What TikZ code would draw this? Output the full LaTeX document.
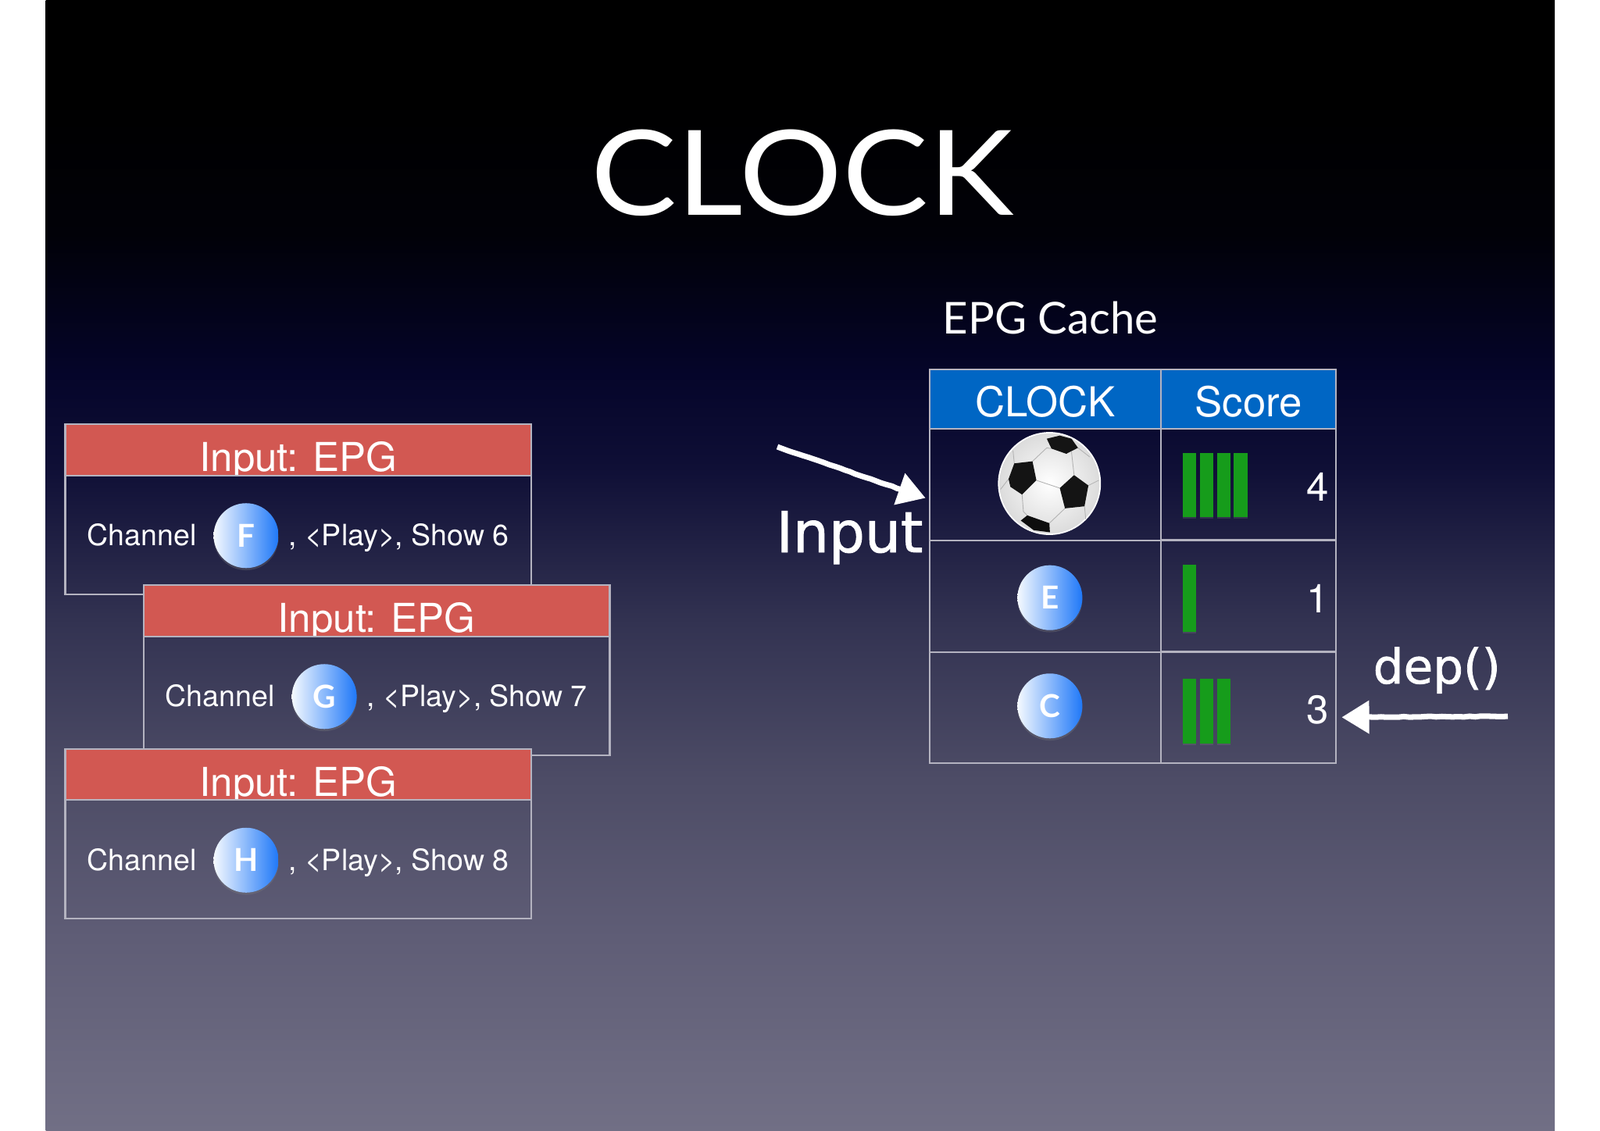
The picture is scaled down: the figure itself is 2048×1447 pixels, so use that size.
\documentclass[tikz,border=0pt]{standalone}
\usepackage{fontspec}
\usepackage{tikz}
\usetikzlibrary{arrows.meta,calc,shadows,decorations.pathmorphing}
\setmainfont{TeX Gyre Heros}
\newfontfamily\gillfont{Lato}
\newfontfamily\chalkfont[FakeBold=1.2]{DejaVu Sans}
\definecolor{rulegrey}{HTML}{B4B3C0}
\definecolor{hdrred}{HTML}{D25852}
\definecolor{hdrblue}{HTML}{0066C4}
\definecolor{bargreen}{HTML}{169C1B}
\definecolor{bubbleblue}{HTML}{1F78F8}
\definecolor{bubblemid}{HTML}{7DB4F8}
\definecolor{panelA}{HTML}{000000}
\definecolor{panelB}{HTML}{010108}
\definecolor{panelC}{HTML}{05052A}
\definecolor{panelD}{HTML}{0F0F36}
\definecolor{panelE}{HTML}{333352}
\definecolor{panelF}{HTML}{4D4C66}
\definecolor{panelG}{HTML}{5F5D76}
\definecolor{panelH}{HTML}{716F85}
\pgfdeclareverticalshading{slidebackdrop}{100bp}{
	color(0bp)=(panelH); color(25bp)=(panelH); color(33.5bp)=(panelG); color(40.5bp)=(panelF);
	color(47.4bp)=(panelE); color(54.3bp)=(panelD); color(58.4bp)=(panelC); color(64.6bp)=(panelB);
	color(70.5bp)=(panelA); color(100bp)=(panelA)}
\tikzset{
	boxline/.style={draw=rulegrey, line width=0.6pt, outer sep=0pt, inner sep=0pt},
	hdr/.style={boxline, fill=hdrred, anchor=north west, minimum width=5.965cm, minimum height=0.655cm},
	body/.style={boxline, anchor=north west, minimum width=5.965cm, minimum height=1.52cm},
	bubble/.style={circle, inner sep=0pt, minimum size=0.83cm, left color=white!92!bubblemid, middle color=bubblemid, right color=bubbleblue, text=white, font=\gillfont\bfseries\fontsize{11.5}{13}\selectfont, drop shadow={shadow xshift=0pt, shadow yshift=-0.8pt, opacity=0.3}},
	big/.style={text=white, inner sep=0pt, font=\fontsize{14.5}{17}\selectfont},
	headtext/.style={text=white, inner sep=0pt, anchor=base, font=\fontsize{15}{18}\selectfont},
	small/.style={text=white, inner sep=0pt, font=\fontsize{10.67}{13}\selectfont},
	cell/.style={boxline, anchor=north west},
	bar/.style={fill=bargreen, inner sep=0pt, anchor=north west, minimum width=0.175cm, drop shadow={shadow xshift=0pt, shadow yshift=-0.6pt, opacity=0.25}},
	chalk/.style={white, line width=2pt, -{Triangle[length=10pt, width=11.7pt]}, decorate, decoration={random steps, segment length=2pt, amplitude=0.15pt, post length=4pt}},
	chalktext/.style={text=white, inner sep=0pt, anchor=base west, font=\chalkfont}
}
\begin{document}
\begin{tikzpicture}[x=0.01cm, y=-0.01cm]
	\useasboundingbox (0,0) rectangle (2048,1447);
	\fill[white] (0,0) rectangle (2048,1447);
	\shade[shading=slidebackdrop] (58.5,0) rectangle (1990,1447);
	\node[text=white, inner sep=0pt, anchor=base, xscale=1.09, font=\gillfont\fontsize{43}{50}\selectfont] (title) at (1027,275) {CLOCK};
	\node[text=white, inner sep=0pt, anchor=base west, font=\gillfont\fontsize{16}{19}\selectfont] (cachetitle) at (1206,427) {EPG Cache};

	\foreach \n/\x/\y/\c/\s in {1/83.5/543.2/F/6, 2/183.6/749.2/G/7, 3/83.5/958.7/H/8} {
		\node[hdr] (hdr\n) at (\x,\y) {};
		\begin{scope}
			\clip (hdr\n.north west) rectangle (hdr\n.south east);
			\node[big, anchor=base] (hdrtext\n) at ($(hdr\n.south)+(0,-5)$) {Input: EPG};
		\end{scope}
		\node[body] (body\n) at (hdr\n.south west) {};
		\node[small, anchor=base west] (channel\n) at ($(body\n.north west)+(27.5,90)$) {Channel};
		\node[bubble] (bubble\n) at ($(body\n.north west)+(231.5,77)$) {\c};
		\node[small, anchor=base west] (show\n) at ($(body\n.north west)+(285,90)$) {, <Play>, Show \s};
	}

	\node[cell, fill=hdrblue, minimum width=2.96cm, minimum height=0.764cm] (headclock) at (1189.6,472.6) {};
	\node[cell, fill=hdrblue, minimum width=2.245cm, minimum height=0.764cm] (headscore) at (headclock.north east) {};
	\node[headtext] (clocktext) at ($(headclock.south)+(0,-16)$) {CLOCK};
	\node[headtext] (scoretext) at ($(headscore.south)+(0,-16)$) {Score};
	\node[cell, minimum width=2.96cm, minimum height=1.43cm] (clock1) at (headclock.south west) {};
	\node[cell, minimum width=2.96cm, minimum height=1.43cm] (clock2) at (clock1.south west) {};
	\node[cell, minimum width=2.96cm, minimum height=1.42cm] (clock3) at (clock2.south west) {};
	\foreach \r/\k/\t/\h/\v in {1/4/30/0.82cm/92.6, 2/1/30.5/0.855cm/92.5, 3/3/33/0.826cm/91.5} {
		\node[cell, minimum width=2.245cm, minimum height=1.42cm] (score\r) at (clock\r.north east) {};
		\foreach \i in {1,...,\k} \node[bar, minimum height=\h] (bar\r\i) at ($(score\r.north west)+({27.3+(\i-1)*21.9},\t)$) {};
		\node[big, anchor=base] (count\r) at ($(score\r.north east)+(-24,\v)$) {\k};
	}
	\node[bubble] (rowE) at ($(clock2.center)+(6.2,1.5)$) {E};
	\node[bubble] (rowC) at ($(clock3.center)+(6.2,-2.5)$) {C};

	\node[circle, draw=white, line width=0.5pt, inner sep=0pt, minimum size=1.3cm, inner color=white, outer color=black!14] (ball) at (1343.3,619) {};
	\begin{scope}[shift={(1260,545)}, x=0.00333cm, y=-0.00333cm]
		\draw[black!30, line width=0.25pt] (185,137) -- (240,85) -- (258,88) (335,100) -- (345,190) (290,240) -- (200,210) (145,265) -- (150,330) -- (165,345) (310,318) -- (250,375) (385,310) -- (390,360) (400,230) -- (440,210) (93,205) -- (62,245) (115,145) -- (110,95) (360,85) -- (405,120);
		\fill[black!92] (240,50) -- (290,38) -- (335,50) -- (360,85) -- (315,108) -- (258,88) -- cycle;
		\fill[black!92] (115,145) -- (185,137) -- (200,210) -- (145,265) -- (100,235) -- (93,205) -- cycle;
		\fill[black!92] (345,190) -- (400,230) -- (385,310) -- (310,318) -- (290,240) -- cycle;
		\fill[black!95] (140,365) -- (165,345) -- (250,375) -- (252,410) -- (190,402) -- cycle;
	\end{scope}

	\node[chalktext, font=\chalkfont\fontsize{20.6}{24}\selectfont] (inputtext) at (993,707) {Input};
	\node[chalktext, font=\chalkfont\fontsize{17.4}{21}\selectfont] (deptext) at (1757,875) {dep()};
	\coordinate (inputtail) at (995,572);
	\coordinate (deptail) at (1930,917);
	\draw[chalk] (inputtail) -- ($(clock1.north west)+(-5,88.5)$);
	\draw[chalk] (deptail) -- ($(score3.south east)+(7,-59)$);
\end{tikzpicture}
\end{document}
